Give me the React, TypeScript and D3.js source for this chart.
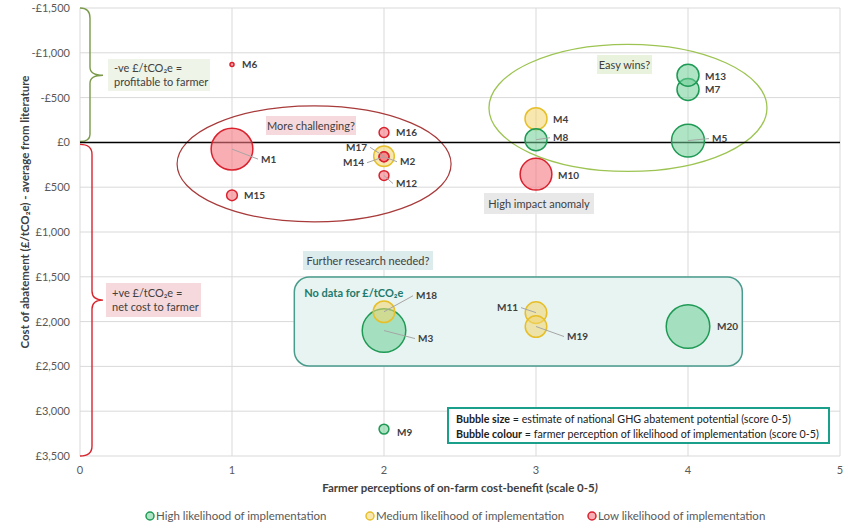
import React, { useEffect } from 'react'
import * as d3 from 'd3'

// measures: x = farmer cost-benefit score, cost = £/tCO2e, size = GHG abatement potential, level = likelihood
const names = ['M1', 'M2', 'M3', 'M4', 'M5', 'M6', 'M7', 'M8', 'M9', 'M10', 'M11', 'M12', 'M13', 'M14', 'M15', 'M16', 'M17', 'M18', 'M19', 'M20']
const benefit = [1, 2, 2, 3, 4, 1, 4, 3, 2, 3, 3, 2, 4, 2, 1, 2, 2, 2, 3, 4]
const cost = [75, 160, 2100, -265, -20, -870, -590, -30, 3200, 355, 1900, 370, -750, 160, 590, -110, 155, 1890, 2055, 2055]
const potential = [4.5, 0.25, 4.9, 1.25, 2.8, 0.04, 1.25, 1.25, 0.25, 2.6, 1.2, 0.25, 1.25, 0.25, 0.3, 0.25, 1.1, 1.2, 1.2, 4.9]
const likelihood = ['low', 'low', 'high', 'medium', 'high', 'low', 'high', 'high', 'high', 'low', 'medium', 'low', 'high', 'low', 'low', 'low', 'medium', 'medium', 'medium', 'high']

const xTicks = [0, 1, 2, 3, 4, 5]
const yTicks = [-1500, -1000, -500, 0, 500, 1000, 1500, 2000, 2500, 3000, 3500]
const legendItems = ['high', 'medium', 'low']
const legendLabels = ['High likelihood of implementation', 'Medium likelihood of implementation', 'Low likelihood of implementation']

const palette: Record<string, { fill: string; stroke: string }> = {
  high: { fill: 'rgba(110,205,150,0.55)', stroke: '#1f9a55' },
  medium: { fill: 'rgba(242,214,110,0.55)', stroke: '#e6bf2a' },
  low: { fill: 'rgba(245,120,128,0.6)', stroke: '#d9222e' },
}

// label placement [dx, dy, anchor, leader]
const labelPos: Record<string, [number, number, string, boolean]> = {
  M1: [29, 10, 'start', true],
  M2: [16, 5, 'start', true],
  M3: [34, 8, 'start', true],
  M4: [17, 1, 'start', false],
  M5: [24, -2, 'start', true],
  M6: [10, 0, 'start', false],
  M7: [17, 0, 'start', false],
  M8: [17, -2, 'start', true],
  M9: [13, 3, 'start', false],
  M10: [22, 1, 'start', false],
  M11: [-18, -5, 'end', true],
  M12: [12, 8, 'start', true],
  M13: [17, 1, 'start', false],
  M14: [-20, 6, 'end', true],
  M15: [12, 0, 'start', false],
  M16: [12, 0, 'start', false],
  M17: [-17, -9, 'end', true],
  M18: [32, -16, 'start', true],
  M19: [31, 10, 'start', true],
  M20: [29, 0, 'start', false],
}

const W = 850
const H = 529
const font = 'Lato, "Open Sans", sans-serif'

export default function App() {
  useEffect(() => {
    document.body.style.margin = '0'
  }, [])

  const x = d3.scaleLinear().domain([0, 5]).range([80, 840])
  const y = d3.scaleLinear().domain([-1500, 3500]).range([8, 456])
  const r = d3.scaleSqrt().domain([0, 5]).range([0, 22])

  const pts = names.map((n, i) => ({
    name: n,
    cx: x(benefit[i]),
    cy: y(cost[i]),
    rad: Math.max(r(potential[i]), 2),
    c: palette[likelihood[i]],
  }))
  // draw largest first
  const ordered = [...pts].sort((a, b) => b.rad - a.rad)

  const x0 = x(0)
  const yTop = y(-1500)
  const yZero = y(0)
  const yBot = y(3500)
  const gTip = y(-750)
  const rTip = y(1760)

  const greenBrace = `M${x0},${yTop} Q${x0 + 10},${yTop} ${x0 + 10},${yTop + 10} L${x0 + 10},${gTip - 8} Q${x0 + 10},${gTip} ${x0 + 23},${gTip} Q${x0 + 10},${gTip} ${x0 + 10},${gTip + 8} L${x0 + 10},${yZero - 8} Q${x0 + 10},${yZero - 1} ${x0},${yZero - 1}`
  const redBrace = `M${x0},${yZero + 2} Q${x0 + 12},${yZero + 2} ${x0 + 12},${yZero + 12} L${x0 + 12},${rTip - 9} Q${x0 + 12},${rTip} ${x0 + 23},${rTip} Q${x0 + 12},${rTip} ${x0 + 12},${rTip + 9} L${x0 + 12},${yBot - 10} Q${x0 + 12},${yBot} ${x0},${yBot}`

  const txt = { fontFamily: font, fontSize: 11, fill: '#404040' }

  return (
    <svg width={W} height={H} style={{ display: 'block', background: '#fff' }}>
      {/* grid */}
      {yTicks.map((t) => (
        <line key={'gy' + t} x1={x(0)} x2={x(5)} y1={y(t)} y2={y(t)} stroke="#d9d9d9" strokeWidth={1} />
      ))}
      {xTicks.map((t) => (
        <line key={'gx' + t} x1={x(t)} x2={x(t)} y1={y(-1500)} y2={y(3500)} stroke="#d9d9d9" strokeWidth={1} />
      ))}
      {yTicks.map((t) => (
        <text key={'ty' + t} x={x(0) - 10} y={y(t) + 4} textAnchor="end" fontFamily={font} fontSize={11} fill="#595959">
          {(t < 0 ? '-£' : '£') + d3.format(',')(Math.abs(t))}
        </text>
      ))}
      {xTicks.map((t) => (
        <text key={'tx' + t} x={x(t)} y={y(3500) + 18} textAnchor="middle" fontFamily={font} fontSize={11} fill="#595959">
          {t}
        </text>
      ))}

      {/* axis titles */}
      <text x={x(2.5)} y={492} textAnchor="middle" fontFamily={font} fontSize={11.5} fontWeight="bold" fill="#404040">
        Farmer perceptions of on-farm cost-benefit (scale 0-5<tspan fontStyle="italic">)</tspan>
      </text>
      <text transform={`translate(29,212) rotate(-90)`} textAnchor="middle" fontFamily={font} fontSize={11.5} fontWeight="bold" fill="#404040">
        Cost of abatement  (£/tCO₂e) - average from literature
      </text>

      {/* annotations */}
      <ellipse cx={x(1.54)} cy={y(240)} rx={137} ry={58} fill="none" stroke="#a83a3a" strokeWidth={1.2} />
      <ellipse cx={x(3.605)} cy={y(-385)} rx={139} ry={63.5} fill="none" stroke="#9dc452" strokeWidth={1.3} />
      <rect x={x(1.41)} y={277} width={448} height={89} rx={15} fill="#e7f4f2" stroke="#4a9b8c" strokeWidth={1.5} />
      <text x={x(1.41) + 10} y={297} fontFamily={font} fontSize={11} fontWeight="bold" fill="#1e7a6c">
        No data for £/tCO₂e
      </text>

      <path d={greenBrace} fill="none" stroke="#7b9a4c" strokeWidth={1.4} />
      <path d={redBrace} fill="none" stroke="#d9262e" strokeWidth={1.4} />

      <rect x={108} y={59} width={102} height={32} fill="#eef4e8" />
      <text x={114} y={72} {...txt}>-ve £/tCO₂e =</text>
      <text x={114} y={86} {...txt}>profitable to farmer</text>

      <rect x={106} y={283} width={95} height={34} fill="#f6d9dc" />
      <text x={112} y={297} {...txt}>+ve £/tCO₂e =</text>
      <text x={112} y={311} {...txt}>net cost to farmer</text>

      <rect x={266} y={116} width={90} height={19} fill="#f6d9dc" />
      <text x={311} y={129.5} textAnchor="middle" {...txt}>More challenging?</text>

      <rect x={597} y={55} width={55} height={19} fill="#e9f2dd" />
      <text x={624.5} y={68.5} textAnchor="middle" {...txt}>Easy wins?</text>

      <rect x={484} y={193} width={110} height={21} fill="#e8e8e8" />
      <text x={539} y={207.5} textAnchor="middle" {...txt}>High impact anomaly</text>

      <rect x={303} y={251} width={130} height={19} fill="#dcebeb" />
      <text x={368} y={264.5} textAnchor="middle" {...txt}>Further research needed?</text>

      {/* zero line */}
      <line x1={x(0)} x2={x(5)} y1={y(0)} y2={y(0)} stroke="#000" strokeWidth={1.5} />

      {/* bubbles */}
      {ordered.map((p) => (
        <circle key={p.name} cx={p.cx} cy={p.cy} r={p.rad} fill={p.c.fill} stroke={p.c.stroke} strokeWidth={1.5} />
      ))}

      {/* labels */}
      {pts.map((p) => {
        const [dx, dy, anchor, leader] = labelPos[p.name]
        const lx = p.cx + dx
        const ly = p.cy + dy
        const ex = anchor === 'end' ? lx + 3 : lx - 3
        return (
          <g key={'l' + p.name}>
            {leader && <line x1={p.cx} y1={p.cy} x2={ex} y2={ly} stroke="#a6a6a6" strokeWidth={1} />}
            <text x={lx} y={ly + 3.5} textAnchor={anchor} fontFamily={font} fontSize={10} fontWeight="bold" fill="#404040">
              {p.name}
            </text>
          </g>
        )
      })}

      {/* bubble key box */}
      <rect x={448} y={408} width={381} height={35} fill="#fff" stroke="#1aa08a" strokeWidth={2} />
      <text x={456} y={423} {...txt} fontSize={10.7} fill="#202020">
        <tspan fontWeight="bold">Bubble size</tspan> = estimate of national GHG abatement potential (score 0-5)
      </text>
      <text x={456} y={437.5} {...txt} fontSize={10.7} fill="#202020">
        <tspan fontWeight="bold">Bubble colour</tspan> = farmer perception of likelihood of implementation (score 0-5)
      </text>

      {/* legend */}
      {legendItems.map((k, i) => {
        const lx = [150, 370, 592][i]
        return (
          <g key={'lg' + k}>
            <circle cx={lx} cy={516} r={4} fill={palette[k].fill} stroke={palette[k].stroke} strokeWidth={1.5} />
            <text x={lx + 6} y={520} fontFamily={font} fontSize={11.5} fill="#595959">
              {legendLabels[i]}
            </text>
          </g>
        )
      })}
    </svg>
  )
}
